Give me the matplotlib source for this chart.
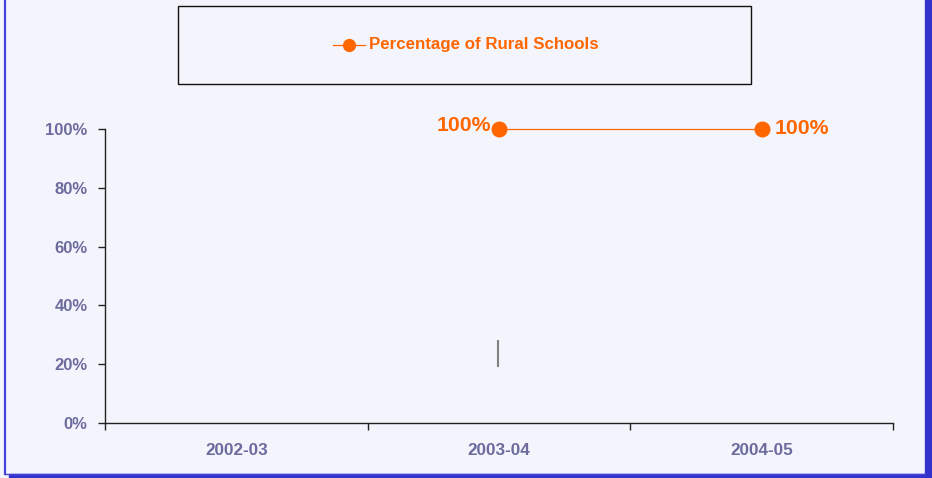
import numpy as np
import matplotlib
matplotlib.use("Agg")
import matplotlib.pyplot as plt
from matplotlib.patches import Rectangle
from matplotlib.lines import Line2D

categories = ["2002-03", "2003-04", "2004-05"]
rural_pct = [np.nan, 100, 100]
series_name = "Percentage of Rural Schools"
y_ticks = [0, 20, 40, 60, 80, 100]
stray_mark = [19.4, 27.9]  # small grey vertical stroke near 2003-04

W, H = 932, 478
bg = "#F4F4FC"
orange = "#FF6600"
label_col = "#6B6B9E"
border_col = "#3333CC"

plt.rcParams['font.family'] = ['Liberation Sans', 'DejaVu Sans']
fig = plt.figure(figsize=(W / 100, H / 100), dpi=100, facecolor=bg)

def px(x0, y0, x1, y1):
    return [x0 / W, 1 - y1 / H, (x1 - x0) / W, (y1 - y0) / H]

# frame and shadow
l, b, w, h = px(9, 474, 932, 478)
fig.patches.append(Rectangle((l, b), w, h, transform=fig.transFigure, color=border_col, zorder=0))
l, b, w, h = px(925, 0, 932, 478)
fig.patches.append(Rectangle((l, b), w, h, transform=fig.transFigure, color=border_col, zorder=0))
fig.lines.append(Line2D([4.5 / W, 4.5 / W], [1 - 474 / H, 1], transform=fig.transFigure, color="#4444DD", lw=1.6))
fig.lines.append(Line2D([4.5 / W, 925 / W], [1 - 473.5 / H, 1 - 473.5 / H], transform=fig.transFigure, color="#4444DD", lw=1.0))

ax = fig.add_axes(px(105, 129, 893, 423))
ax.set_facecolor(bg)
x = np.arange(len(categories))
line, = ax.plot(x, rural_pct, color=orange, lw=0.9, marker="o", markersize=10.5, label=series_name, clip_on=False, zorder=3)

# data labels
for xi, v in zip(x, rural_pct):
    if np.isnan(v):
        continue
    if xi == 1:
        ax.annotate(f"{v:.0f}%", (xi, v), xytext=(-6, 2.5), textcoords="offset points",
                    ha="right", va="center", color=orange, fontsize=15.3, fontweight="bold")
    else:
        ax.annotate(f"{v:.0f}%", (xi, v), xytext=(9.5, 0.5), textcoords="offset points",
                    ha="left", va="center", color=orange, fontsize=15.3, fontweight="bold")

ax.plot([0.995, 0.995], stray_mark, color="#808080", lw=1.5, zorder=2)

ax.set_xlim(-0.5, len(categories) - 0.5)
ax.set_ylim(0, 100)
ax.set_yticks(y_ticks)
ax.set_yticklabels([f"{t}%" for t in y_ticks])
ax.set_xticks(x)
ax.set_xticklabels(categories)
ax.set_xticks(np.arange(-0.5, len(categories)), minor=True)
ax.tick_params(axis="x", which="major", length=0, pad=14.5, labelsize=12.3, labelcolor=label_col)
ax.tick_params(axis="x", which="minor", length=5, width=1, color="#222222", direction="out")
ax.tick_params(axis="y", length=5, width=1, color="#222222", labelsize=12, labelcolor=label_col, pad=7.5)
for lab in ax.get_xticklabels() + ax.get_yticklabels():
    lab.set_fontweight("bold")
for s in ["top", "right"]:
    ax.spines[s].set_visible(False)
for s in ["left", "bottom"]:
    ax.spines[s].set_color("#222222")
    ax.spines[s].set_linewidth(1)

# legend box
l, b, w, h = px(178, 6, 751, 84)
fig.patches.append(Rectangle((l, b), w, h, transform=fig.transFigure, fill=False, ec="#111111", lw=1))
lx0, lx1, ly = 333 / W, 365 / W, 1 - 45 / H
fig.lines.append(Line2D([lx0, lx1], [ly, ly], transform=fig.transFigure, color=orange, lw=0.9))
fig.lines.append(Line2D([(lx0 + lx1) / 2], [ly], transform=fig.transFigure, color=orange, marker="o", markersize=8.5))
fig.text(369 / W, ly, series_name, color=orange, fontsize=12.2, fontweight="bold", va="center", ha="left")

fig.savefig("out.png", dpi=100, facecolor=bg)
